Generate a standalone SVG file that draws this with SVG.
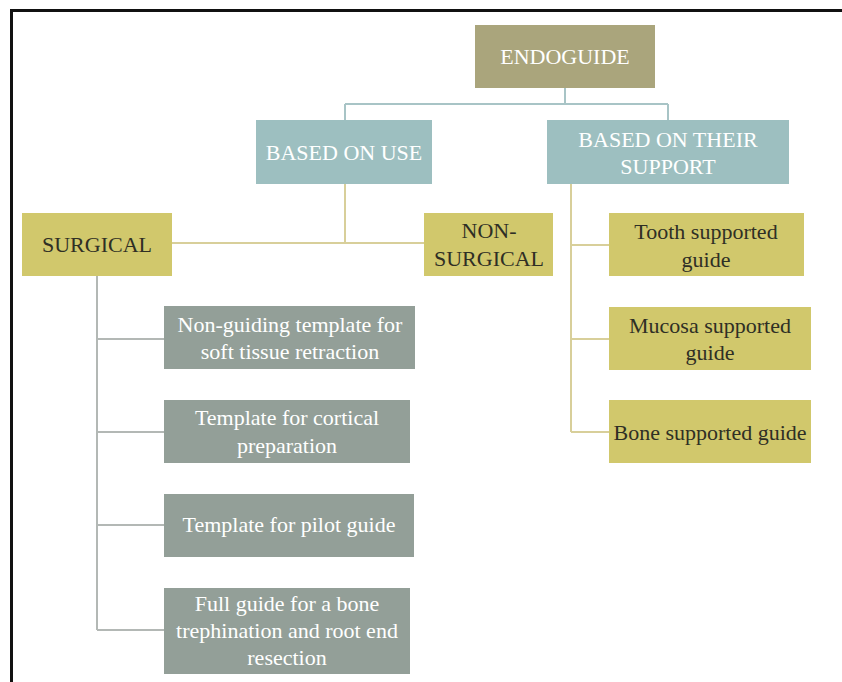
<svg xmlns="http://www.w3.org/2000/svg" width="842" height="682" viewBox="0 0 842 682" font-family="'Liberation Serif', 'DejaVu Serif', serif">
<style>
text{font-family:'Liberation Serif','DejaVu Serif',serif;font-size:22px;text-anchor:middle}
.root{fill:#aaa57c}
.blue{fill:#9dbfc0}
.yel{fill:#d1c86c}
.gray{fill:#939f98}
.w{fill:#ffffff}
.d{fill:#2f2f25}
.cb{stroke:#a8c4c6;stroke-width:2;fill:none}
.cy{stroke:#d8cf9a;stroke-width:2;fill:none}
.cg{stroke:#b3b8b5;stroke-width:2;fill:none}
</style>
<rect x="0" y="0" width="842" height="682" fill="#ffffff"/>
<path d="M11.5 682 V10.5 H842" stroke="#111111" stroke-width="3" fill="none"/>
<g id="connectors">
<path class="cb" d="M565 88 V104 M345 104 H668 M345 104 V120 M668 104 V120"/>
<path class="cy" d="M345 184 V243 M172 243 H424"/>
<path class="cy" d="M571 184 V432 M571 245 H609 M571 339 H609 M571 432 H609"/>
<path class="cg" d="M97 276 V630 M97 339 H164 M97 432 H164 M97 525 H164 M97 630 H164"/>
</g>
<g id="endoguide"><rect class="root" x="475" y="25" width="180" height="63"/><text class="w" x="565" y="64">ENDOGUIDE</text></g>
<g id="based-on-use"><rect class="blue" x="256" y="120" width="176" height="64"/><text class="w" x="344" y="160">BASED ON USE</text></g>
<g id="based-on-support"><rect class="blue" x="547" y="120" width="242" height="64"/><text class="w" x="668" y="147">BASED ON THEIR</text><text class="w" x="668" y="174">SUPPORT</text></g>
<g id="surgical"><rect class="yel" x="22" y="213" width="150" height="63"/><text class="d" x="97" y="252">SURGICAL</text></g>
<g id="non-surgical"><rect class="yel" x="424" y="213" width="129" height="63"/><text class="d" x="489" y="238">NON-</text><text class="d" x="489" y="266">SURGICAL</text></g>
<g id="tooth"><rect class="yel" x="609" y="213" width="195" height="63"/><text class="d" x="706" y="239">Tooth supported</text><text class="d" x="706" y="267">guide</text></g>
<g id="mucosa"><rect class="yel" x="609" y="307" width="202" height="63"/><text class="d" x="710" y="333">Mucosa supported</text><text class="d" x="710" y="360">guide</text></g>
<g id="bone"><rect class="yel" x="609" y="400" width="202" height="63"/><text class="d" x="710" y="440">Bone supported guide</text></g>
<g id="non-guiding"><rect class="gray" x="164" y="306" width="251" height="63"/><text class="w" x="290" y="332">Non-guiding template for</text><text class="w" x="290" y="359">soft tissue retraction</text></g>
<g id="cortical"><rect class="gray" x="164" y="400" width="246" height="63"/><text class="w" x="287" y="425">Template for cortical</text><text class="w" x="287" y="453">preparation</text></g>
<g id="pilot"><rect class="gray" x="164" y="494" width="250" height="63"/><text class="w" x="289" y="532">Template for pilot guide</text></g>
<g id="full-guide"><rect class="gray" x="164" y="588" width="246" height="86"/><text class="w" x="287" y="611">Full guide for a bone</text><text class="w" x="287" y="638">trephination and root end</text><text class="w" x="287" y="665">resection</text></g>
</svg>
